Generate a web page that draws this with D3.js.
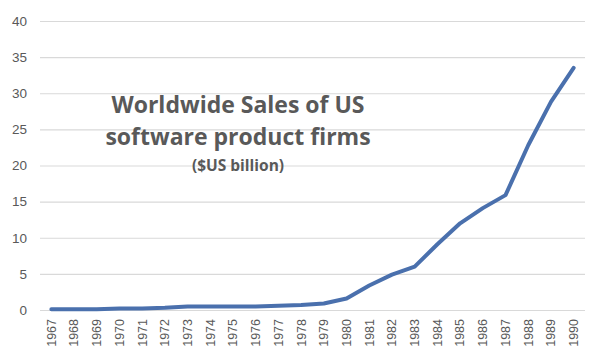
<!DOCTYPE html>
<html>
<head>
<meta charset="utf-8">
<script src="https://cdn.jsdelivr.net/npm/d3@7"></script>
<style>
  body { margin: 0; background: #fff; }
  svg { display: block; }
</style>
</head>
<body>
<svg></svg>
<script>
 let years = ['1967','1968','1969','1970','1971','1972','1973','1974','1975','1976','1977','1978',
              '1979','1980','1981','1982','1983','1984','1985','1986','1987','1988','1989','1990'];
 let sales = [0.1, 0.1, 0.1, 0.2, 0.2, 0.3, 0.5, 0.5, 0.5, 0.5, 0.6, 0.7,
              0.9, 1.6, 3.4, 4.9, 6.0, 9.1, 12.0, 14.1, 15.9, 22.8, 28.8, 33.5];
 let yTicks = [0, 5, 10, 15, 20, 25, 30, 35, 40];
 let titleLines = ['Worldwide Sales of US', 'software product firms'];
 let subtitle = '($US billion)';

 let width = 601;
 let height = 361;
 let plotLeft = 40, plotRight = 585, plotTop = 21, plotBottom = 310;

 let svg = d3.select('svg')
             .attr('width', width)
             .attr('height', height);

 let xScale = d3.scaleBand()
                .domain(years)
                .range([plotLeft, plotRight]);

 let yScale = d3.scaleLinear()
                .domain([0, 40])
                .range([plotBottom, plotTop]);

 // gridlines + y labels
 let yAxis = d3.axisLeft(yScale)
               .tickValues(yTicks)
               .tickSize(-(plotRight - plotLeft))
               .tickPadding(13);

 let yg = svg.append('g')
             .attr('transform', `translate(${plotLeft}, 0)`)
             .call(yAxis);
 yg.select('.domain').remove();
 yg.selectAll('line').attr('stroke', '#d9d9d9').attr('stroke-width', 1.2);
 yg.selectAll('text')
   .attr('fill', '#595959')
   .style('font-family', 'Liberation Sans, Arial, sans-serif')
   .style('font-size', '13.5px');

 // x axis labels rotated
 let xAxis = d3.axisBottom(xScale).tickSize(0).tickPadding(0);
 let xg = svg.append('g')
             .attr('transform', `translate(0, ${plotBottom})`)
             .call(xAxis);
 xg.select('.domain').remove();
 xg.selectAll('text')
   .attr('fill', '#595959')
   .style('font-family', 'Liberation Sans, Arial, sans-serif')
   .style('font-size', '12.5px')
   .attr('text-anchor', 'end')
   .attr('dy', '0.35em')
   .attr('transform', 'translate(0, 9) rotate(-90)');

 // line
 let line = d3.line()
              .x((d, i) => xScale(years[i]) + xScale.bandwidth() / 2)
              .y(d => yScale(d));

 svg.append('path')
    .datum(sales)
    .attr('d', line)
    .attr('fill', 'none')
    .attr('stroke', '#4a70ad')
    .attr('stroke-width', 4)
    .attr('stroke-linejoin', 'round')
    .attr('stroke-linecap', 'round');

 // title in plot
 let tg = svg.append('g')
             .attr('fill', '#595959')
             .attr('text-anchor', 'middle')
             .style('font-family', 'Open Sans, sans-serif')
             .style('font-weight', 'bold');
 tg.selectAll('text.t')
   .data(titleLines)
   .enter()
   .append('text')
   .attr('class', 't')
   .attr('x', 238)
   .attr('y', (d, i) => 113 + i * 32)
   .style('font-size', '23px')
   .text(d => d);
 tg.append('text')
   .attr('x', 238)
   .attr('y', 171)
   .style('font-size', '15.5px')
   .text(subtitle);
</script>
</body>
</html>
